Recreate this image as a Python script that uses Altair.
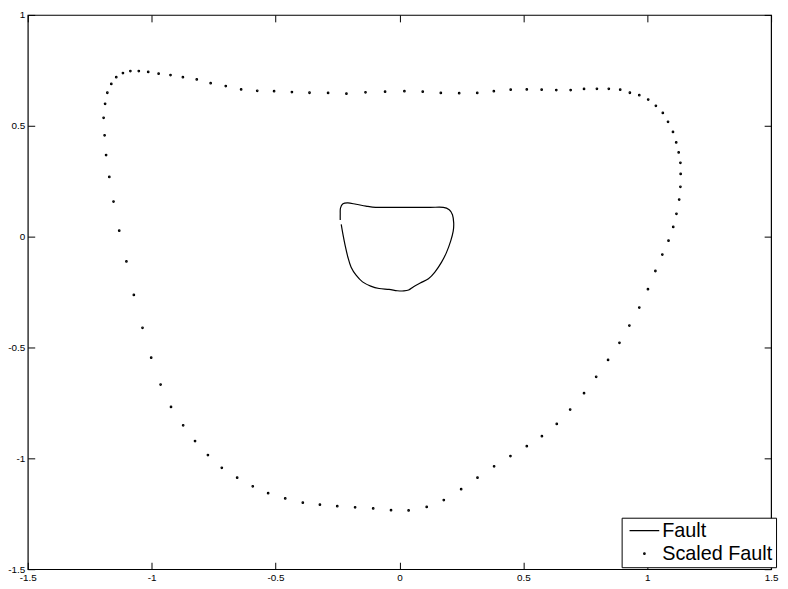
import altair as alt
import pandas as pd

# ---- data ----
scaled_x = [-0.825, -0.873, -0.922, -0.964, -1.002, -1.037, -1.072, -1.102, -1.131, -1.154,
            -1.171, -1.184, -1.190, -1.194, -1.188, -1.179, -1.163, -1.143, -1.116, -1.086,
            -1.052, -1.014, -0.972, -0.924, -0.874, -0.818, -0.762, -0.701, -0.639, -0.574,
            -0.506, -0.434, -0.363, -0.288, -0.214, -0.137, -0.058, 0.020, 0.094, 0.167,
            0.241, 0.314, 0.381, 0.449, 0.514, 0.574, 0.633, 0.691, 0.745, 0.797,
            0.845, 0.891, 0.930, 0.968, 1.004, 1.035, 1.063, 1.084, 1.104, 1.117,
            1.127, 1.134, 1.135, 1.134, 1.129, 1.118, 1.105, 1.086, 1.061, 1.033,
            1.003, 0.968, 0.928, 0.888, 0.842, 0.794, 0.745, 0.689, 0.635, 0.575,
            0.514, 0.448, 0.382, 0.315, 0.249, 0.179, 0.110, 0.037, -0.034, -0.106,
            -0.179, -0.251, -0.321, -0.390, -0.461, -0.530, -0.592, -0.655, -0.717, -0.773]
scaled_y = [-0.922, -0.851, -0.768, -0.667, -0.546, -0.411, -0.263, -0.112, 0.027, 0.158,
            0.269, 0.368, 0.457, 0.536, 0.599, 0.649, 0.689, 0.719, 0.738, 0.747,
            0.747, 0.743, 0.735, 0.729, 0.719, 0.709, 0.692, 0.679, 0.664, 0.658,
            0.656, 0.652, 0.649, 0.648, 0.645, 0.651, 0.654, 0.656, 0.654, 0.648,
            0.647, 0.648, 0.656, 0.663, 0.664, 0.663, 0.661, 0.661, 0.666, 0.667,
            0.667, 0.663, 0.649, 0.638, 0.618, 0.590, 0.558, 0.518, 0.472, 0.425,
            0.380, 0.333, 0.283, 0.225, 0.167, 0.103, 0.044, -0.018, -0.081, -0.155,
            -0.237, -0.320, -0.401, -0.479, -0.556, -0.632, -0.706, -0.780, -0.845, -0.900,
            -0.945, -0.990, -1.036, -1.087, -1.139, -1.188, -1.219, -1.235, -1.234, -1.226,
            -1.221, -1.216, -1.209, -1.200, -1.181, -1.157, -1.126, -1.087, -1.043, -0.985]

fault_x = [-0.235, -0.228, -0.219, -0.208, -0.195, -0.175, -0.149, -0.116, -0.082, -0.042,
           -0.009, 0.018, 0.037, 0.057, 0.084, 0.117, 0.143, 0.170, 0.190, 0.207,
           0.217, 0.219, 0.214, 0.201, 0.177, 0.124, 0.057, -0.002, -0.056, -0.096,
           -0.135, -0.175, -0.208, -0.228, -0.238, -0.239, -0.239]
fault_y = [0.055, 0.010, -0.041, -0.093, -0.138, -0.174, -0.204, -0.223, -0.234, -0.238,
           -0.244, -0.245, -0.241, -0.226, -0.209, -0.190, -0.160, -0.115, -0.071, -0.019,
           0.025, 0.062, 0.099, 0.121, 0.132, 0.132, 0.132, 0.132, 0.132, 0.132,
           0.138, 0.146, 0.152, 0.148, 0.129, 0.102, 0.075]

series_names = ["Fault", "Scaled Fault"]
x_ticks = [-1.5, -1, -0.5, 0, 0.5, 1, 1.5]
y_ticks = [-1.5, -1, -0.5, 0, 0.5, 1]

fault_df = pd.DataFrame({"x": fault_x, "y": fault_y,
                         "i": list(range(len(fault_x))), "series": "Fault"})
scaled_df = pd.DataFrame({"x": scaled_x, "y": scaled_y, "series": "Scaled Fault"})

FONT = "Liberation Sans"
xs = alt.Scale(domain=[-1.5, 1.5], nice=False, zero=False)
ys = alt.Scale(domain=[-1.5, 1], nice=False, zero=False)

# plain hyphen-minus in tick labels, as in the reference
LABEL_EXPR = "datum.value < 0 ? '-' + format(-datum.value, '~g') : format(datum.value, '~g')"

common_axis = dict(domain=False, grid=False, ticks=True, tickSize=7, offset=-7,
                   tickColor="black", tickWidth=1, title=None)
label_axis = dict(labelExpr=LABEL_EXPR, labelFlush=False, labelOverlap=False,
                  labelPadding=3, labelFontSize=10, labelFont=FONT, labelColor="black")

legend_props = dict(orient="none", legendX=600, legendY=508, title=None,
                    labelFontSize=20, labelFont=FONT, labelColor="black",
                    strokeColor="black", fillColor="white", padding=3, rowPadding=3.3,
                    clipHeight=20, symbolOffset=4,
                    labelOffset=2, symbolStrokeColor="black", symbolStrokeWidth=1.2,
                    cornerRadius=0, symbolOpacity=1, labelLimit=300)

points = alt.Chart(scaled_df).mark_point(
    filled=False, color="black", opacity=1, strokeWidth=1.2
).encode(
    x=alt.X("x:Q", scale=xs,
            axis=alt.Axis(orient="bottom", values=x_ticks, **label_axis, **common_axis)),
    y=alt.Y("y:Q", scale=ys,
            axis=alt.Axis(orient="left", values=y_ticks, **label_axis, **common_axis)),
    shape=alt.Shape("series:N",
                    scale=alt.Scale(domain=series_names, range=["stroke", "circle"]),
                    legend=alt.Legend(**legend_props)),
    size=alt.Size("series:N",
                  scale=alt.Scale(type="ordinal", domain=series_names, range=[900, 2.5]),
                  legend=alt.Legend(**legend_props)),
)

line = alt.Chart(fault_df).mark_line(
    color="black", strokeWidth=1.2, interpolate="cardinal"
).encode(
    x=alt.X("x:Q", scale=xs,
            axis=alt.Axis(orient="top", labels=False, values=x_ticks, **common_axis)),
    y=alt.Y("y:Q", scale=ys,
            axis=alt.Axis(orient="right", labels=False, values=y_ticks, **common_axis)),
    order="i:Q",
)

chart = alt.layer(points, line).resolve_axis(
    x="independent", y="independent"
).properties(
    width=751, height=560,
    autosize=alt.AutoSizeParams(type="none"),
    padding={"left": 20, "top": 4, "right": 9, "bottom": 16},
).configure_view(stroke="black", strokeWidth=1.2)

chart.save("out.html", embed_options={"renderer": "svg", "actions": False})
